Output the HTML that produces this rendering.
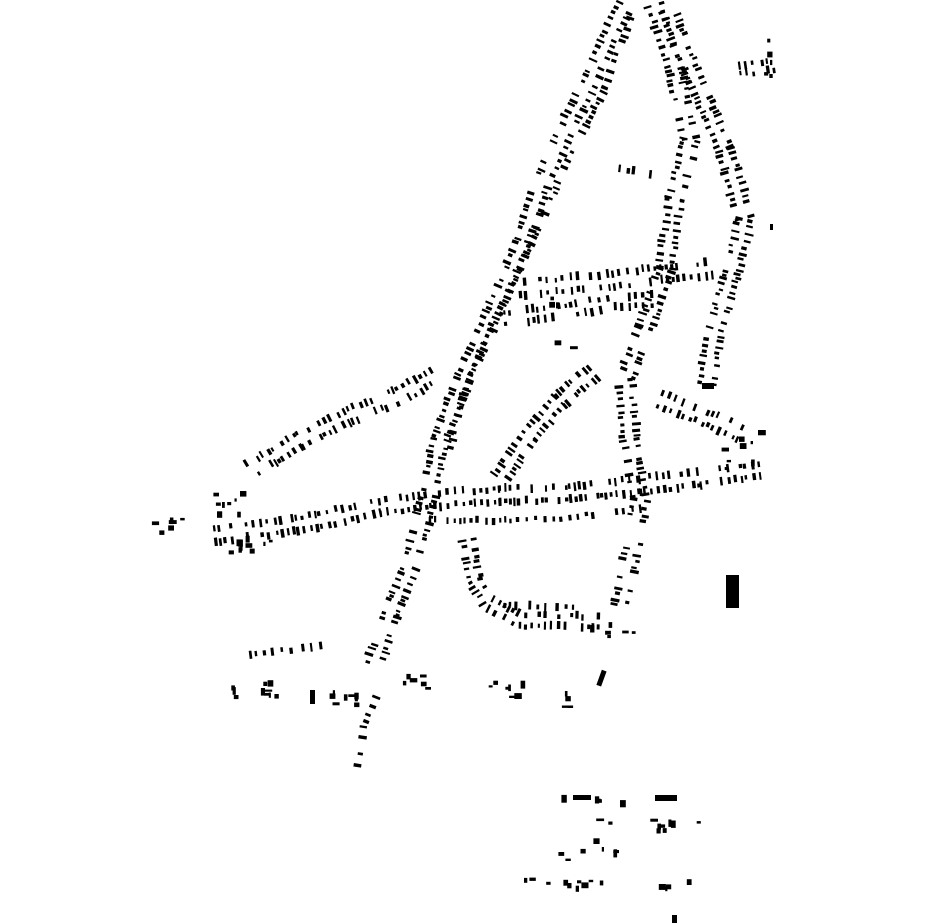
<!DOCTYPE html>
<html><head><meta charset="utf-8">
<style>html,body{margin:0;padding:0;background:#fff;width:930px;height:924px;overflow:hidden}svg{display:block}</style>
</head><body>
<svg id="s" width="930" height="924" xmlns="http://www.w3.org/2000/svg"></svg>
<script>
var s=document.getElementById('s');
var seed=7;function r(){seed=(seed*16807)%2147483647;return seed/2147483647;}
var out='';
function rect(x,y,w,h,a){out+='<rect x="'+(-w/2).toFixed(1)+'" y="'+(-h/2).toFixed(1)+'" width="'+w.toFixed(1)+'" height="'+h.toFixed(1)+'" transform="translate('+x.toFixed(1)+','+y.toFixed(1)+') rotate('+a.toFixed(1)+')"/>';}
function road(pts,step,off,both){
 for(var i=0;i<pts.length-1;i++){
  var a=pts[i],b=pts[i+1],dx=b[0]-a[0],dy=b[1]-a[1],L=Math.hypot(dx,dy),ux=dx/L,uy=dy/L,nx=-uy,ny=ux;
  var ang=Math.atan2(dy,dx)*180/Math.PI;
  for(var t=0;t<L;t+=step*(0.6+r()*0.8)){
   var sides=both?[-1,1]:[1];
   for(var k=0;k<sides.length;k++){
    if(r()<0.2)continue;
    var o=sides[k]*(off+r()*3);
    rect(a[0]+ux*t+nx*o,a[1]+uy*t+ny*o,2+r()*1.5,4+r()*5,ang);
   }
  }
 }
}
function cluster(cx,cy,rx,ry,n){for(var i=0;i<n;i++){rect(cx+(r()*2-1)*rx,cy+(r()*2-1)*ry,2+r()*4,3+r()*5,r()<0.5?0:90);}}
road([[625,5],[585,90],[545,175],[520,250],[490,320],[462,380],[440,440],[428,500],[412,560],[390,615],[372,670]],6,5,true);
road([[635,20],[610,90],[570,170],[540,240],[500,320],[470,390],[455,450]],7,4,false);
road([[655,5],[675,70],[690,140],[675,200],[665,270],[645,330],[625,380],[630,440],[640,500],[630,560],[620,610]],6,5,true);
road([[668,10],[695,80],[725,150],[745,220],[730,280],[715,330],[705,390]],6,5,true);
road([[520,288],[600,282],[650,275],[715,268]],7,5,true);
road([[505,318],[560,312],[615,302],[655,300]],7,4,true);
road([[250,470],[300,440],[350,415],[400,395],[435,375]],6,5,true);
road([[215,535],[270,528],[320,520],[380,507],[430,500],[500,495],[570,493],[640,485],[700,478],[760,470]],6,5,true);
road([[430,515],[500,515],[560,513],[640,503]],7,4,false);
road([[500,478],[530,435],[560,400],[595,370]],6,5,true);
road([[468,540],[475,580],[490,605],[520,620],[600,622]],6,4,true);
road([[505,600],[580,602]],7,4,false);
road([[660,400],[700,415],[745,435]],7,5,true);
road([[250,650],[330,640]],9,3,false);
road([[355,765],[362,720],[372,695]],9,2,false);
road([[740,70],[775,65]],6,3,true);
road([[620,165],[665,170]],8,3,false);
cluster(170,525,18,8,6);cluster(225,505,20,12,8);cluster(250,545,25,8,10);
cluster(255,690,25,8,10);cluster(345,695,15,10,8);cluster(410,680,20,10,6);
cluster(500,690,25,10,7);cluster(565,705,8,15,4);cluster(555,290,8,20,3);
cluster(590,800,35,6,5);cluster(640,825,60,8,10);cluster(600,850,50,10,8);
cluster(570,885,45,8,10);cluster(680,885,20,5,4);cluster(620,630,40,10,6);
cluster(745,450,20,25,8);cluster(770,60,6,20,5);cluster(565,345,10,5,2);
out+='<rect x="726" y="575" width="13" height="33"/><rect x="655" y="795" width="22" height="6"/><rect x="573" y="795" width="18" height="5"/><rect x="599" y="670" width="5" height="16" transform="rotate(20 601 678)"/><rect x="672" y="915" width="5" height="8"/><rect x="310" y="690" width="5" height="14"/><rect x="770" y="224" width="3" height="6"/><rect x="702" y="383" width="12" height="6"/>';
s.innerHTML=out;
</script>
</body></html>
